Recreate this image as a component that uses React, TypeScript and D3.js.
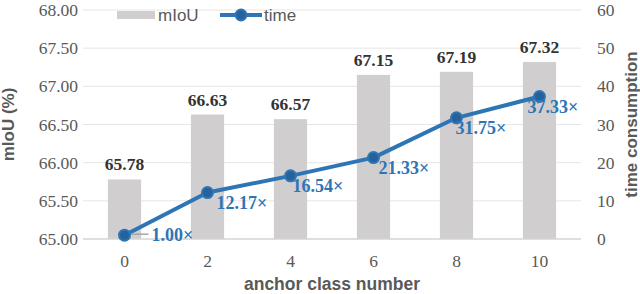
import { useRef, useEffect } from 'react';
import * as d3 from 'd3';

// ---------------------------------------------------------------------------
// Data
// ---------------------------------------------------------------------------
const categories = ['0', '2', '4', '6', '8', '10'];
const miouValues = [65.78, 66.63, 66.57, 67.15, 67.19, 67.32];
const timeValues = [1.0, 12.17, 16.54, 21.33, 31.75, 37.33];
const leftTicks = [65, 65.5, 66, 66.5, 67, 67.5, 68];
const rightTicks = [0, 10, 20, 30, 40, 50, 60];
// horizontal nudge of each time label (label placement only)
const timeLabelDx = [27, 9, 2, 5, -1, -12];

// ---------------------------------------------------------------------------
// Styles
// ---------------------------------------------------------------------------
const BAR = '#d0cece';
const LINE = '#2e75b6';
const MARKER = '#25619a';
const GRID = '#e6e6e6';
const AXIS = '#d4d4d4';
const TEXT = '#595959';
const VALUE = '#333333';
const SERIF = '"Liberation Serif", "Times New Roman", serif';
const SANS = '"Liberation Sans", Arial, sans-serif';

const W = 640;
const H = 294;

export default function App() {
  const svgRef = useRef<SVGSVGElement>(null);

  useEffect(() => {
    const svg = svgRef.current;
    if (!svg) return;
    const sel = d3.select(svg);
    sel.selectAll('*').remove();

    const left = 83;
    const right = 581;
    const top = 10;
    const bottom = 239;

    const x = d3.scaleBand<string>().domain(categories).range([left, right]).paddingInner(0.6).paddingOuter(0.3);
    const yL = d3.scaleLinear().domain([65, 68]).range([bottom, top]);
    const yR = d3.scaleLinear().domain([0, 60]).range([bottom, top]);
    const cx = (c: string) => (x(c) ?? 0) + x.bandwidth() / 2;

    // Gridlines
    sel.append('g')
      .selectAll('line')
      .data(leftTicks.slice(1))
      .join('line')
      .attr('x1', left)
      .attr('x2', right)
      .attr('y1', (d) => yL(d))
      .attr('y2', (d) => yL(d))
      .attr('stroke', GRID)
      .attr('stroke-width', 1);

    // Bars
    sel.append('g')
      .selectAll('rect')
      .data(miouValues)
      .join('rect')
      .attr('x', (_, i) => x(categories[i]) ?? 0)
      .attr('y', (d) => yL(d))
      .attr('width', x.bandwidth())
      .attr('height', (d) => bottom - yL(d))
      .attr('fill', BAR);

    // Baseline
    sel.append('line')
      .attr('x1', left)
      .attr('x2', right)
      .attr('y1', bottom)
      .attr('y2', bottom)
      .attr('stroke', AXIS)
      .attr('stroke-width', 1.5);

    // Bar labels
    sel.append('g')
      .selectAll('text')
      .data(miouValues)
      .join('text')
      .attr('x', (_, i) => cx(categories[i]))
      .attr('y', (d) => yL(d) - 9)
      .attr('text-anchor', 'middle')
      .attr('font-family', SERIF)
      .attr('font-weight', 'bold')
      .attr('font-size', '17.5px')
      .attr('fill', VALUE)
      .text((d) => d.toFixed(2));

    // Time line
    const line = d3
      .line<number>()
      .x((_, i) => cx(categories[i]))
      .y((d) => yR(d));

    sel.append('path')
      .datum(timeValues)
      .attr('d', line)
      .attr('fill', 'none')
      .attr('stroke', LINE)
      .attr('stroke-width', 4)
      .attr('stroke-linejoin', 'round');

    // Leader line for first label
    sel.append('line')
      .attr('x1', cx(categories[0]) + 5)
      .attr('x2', cx(categories[0]) + 24)
      .attr('y1', yR(timeValues[0]) - 1)
      .attr('y2', yR(timeValues[0]) - 1)
      .attr('stroke', '#a6a6a6')
      .attr('stroke-width', 1.5);

    sel.append('g')
      .selectAll('circle')
      .data(timeValues)
      .join('circle')
      .attr('cx', (_, i) => cx(categories[i]))
      .attr('cy', (d) => yR(d))
      .attr('r', 5.5)
      .attr('fill', MARKER)
      .attr('stroke', LINE)
      .attr('stroke-width', 2);

    // Time labels
    sel.append('g')
      .selectAll('text')
      .data(timeValues)
      .join('text')
      .attr('x', (_, i) => cx(categories[i]) + timeLabelDx[i])
      .attr('y', (d, i) => (i === 0 ? yR(d) + 6 : yR(d) + 16))
      .attr('font-family', SERIF)
      .attr('font-weight', 'bold')
      .attr('font-size', '18px')
      .attr('fill', LINE)
      .text((d) => `${d.toFixed(2)}×`);

    // Left axis labels
    sel.append('g')
      .selectAll('text')
      .data(leftTicks)
      .join('text')
      .attr('x', 78)
      .attr('y', (d) => yL(d))
      .attr('dy', '0.35em')
      .attr('text-anchor', 'end')
      .attr('font-family', SERIF)
      .attr('font-size', '17.5px')
      .attr('fill', TEXT)
      .text((d) => d.toFixed(2));

    // Right axis labels
    sel.append('g')
      .selectAll('text')
      .data(rightTicks)
      .join('text')
      .attr('x', 597)
      .attr('y', (d) => yR(d))
      .attr('dy', '0.35em')
      .attr('text-anchor', 'start')
      .attr('font-family', SERIF)
      .attr('font-size', '17.5px')
      .attr('fill', TEXT)
      .text((d) => String(d));

    // Category labels
    sel.append('g')
      .selectAll('text')
      .data(categories)
      .join('text')
      .attr('x', (d) => cx(d))
      .attr('y', 267)
      .attr('text-anchor', 'middle')
      .attr('font-family', SERIF)
      .attr('font-size', '17.5px')
      .attr('fill', TEXT)
      .text((d) => d);

    // Axis titles
    sel.append('text')
      .attr('x', (left + right) / 2)
      .attr('y', 290)
      .attr('text-anchor', 'middle')
      .attr('font-family', SANS)
      .attr('font-weight', 'bold')
      .attr('font-size', '17.5px')
      .attr('fill', TEXT)
      .text('anchor class number');

    sel.append('text')
      .attr('transform', `translate(14,${(top + bottom) / 2}) rotate(-90)`)
      .attr('text-anchor', 'middle')
      .attr('font-family', SANS)
      .attr('font-weight', 'bold')
      .attr('font-size', '17px')
      .attr('fill', TEXT)
      .text('mIoU (%)');

    sel.append('text')
      .attr('transform', `translate(637,${(top + bottom) / 2}) rotate(-90)`)
      .attr('text-anchor', 'middle')
      .attr('font-family', SANS)
      .attr('font-weight', 'bold')
      .attr('font-size', '17px')
      .attr('fill', TEXT)
      .text('time consumption');

    // Legend
    const lg = sel.append('g').attr('transform', 'translate(117,15)');
    lg.append('rect').attr('x', 0).attr('y', -4).attr('width', 38).attr('height', 8).attr('fill', BAR);
    lg.append('text')
      .attr('x', 41)
      .attr('y', 0)
      .attr('dy', '0.35em')
      .attr('font-family', SANS)
      .attr('font-size', '17px')
      .attr('fill', TEXT)
      .text('mIoU');
    lg.append('line')
      .attr('x1', 103)
      .attr('x2', 145)
      .attr('y1', 0)
      .attr('y2', 0)
      .attr('stroke', LINE)
      .attr('stroke-width', 4);
    lg.append('circle')
      .attr('cx', 124)
      .attr('cy', 0)
      .attr('r', 5.5)
      .attr('fill', MARKER)
      .attr('stroke', LINE)
      .attr('stroke-width', 2);
    lg.append('text')
      .attr('x', 147)
      .attr('y', 0)
      .attr('dy', '0.35em')
      .attr('font-family', SANS)
      .attr('font-size', '17px')
      .attr('fill', TEXT)
      .text('time');
  }, []);

  return (
    <svg
      ref={svgRef}
      width={W}
      height={H}
      style={{ position: 'absolute', left: 0, top: 0, background: '#ffffff' }}
    />
  );
}
